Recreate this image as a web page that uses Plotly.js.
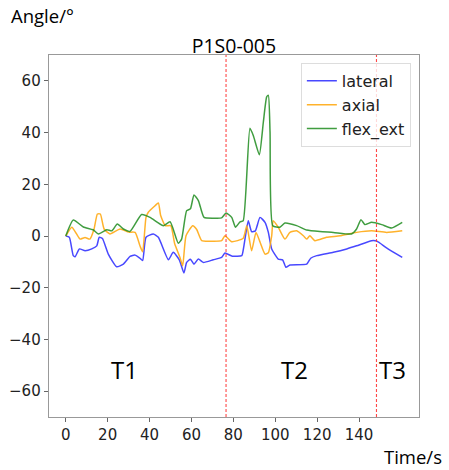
<!DOCTYPE html>
<html>
<head>
<meta charset="utf-8">
<script src="https://cdn.plot.ly/plotly-3.0.1.min.js"></script>
<style>html,body{margin:0;padding:0;background:#fff;}#chart{width:449px;height:470px;}</style>
</head>
<body>
<div id="chart"></div>
<script>
const seriesNames = ["lateral", "axial", "flex_ext"];

const tLateral = [0,1.7,3.6,4.5,6.5,9.2,12.4,14.8,16,17.5,20.3,24.3,27.5,30.7,33.1,35.4,36.7,38.3,41.8,44.2,49,51.3,54.2,56.4,57.7,59.5,61.2,63.3,65.6,70.4,74.4,76,79.5,84,85,87.1,88.7,90.5,92.7,95.1,96.7,98.3,101.4,103.5,105.1,107,115,116.9,119.8,127.7,134.1,138.8,146,148.5,153.1,160.6];
const lateral = [0,-0.5,-7.6,-8,-5,-5.7,-5,-3.8,-0.5,-1,-7,-11.9,-10.9,-7.9,-7.4,-8.6,-9.5,-0.5,0.8,-0.5,-9.2,-6.3,-9.2,-14.3,-10.2,-9,-10.9,-8.9,-10.2,-9.2,-8.3,-6.6,-7.8,-7.6,-4,5.9,1.7,2,7.2,5.3,1.4,-5,-8.9,-9.2,-12.1,-11.2,-10.9,-8.6,-7.6,-6.3,-5,-3.8,-1.8,-2,-4.6,-8.3];

const tAxial = [0,2.9,5,6.8,9.2,11.5,13.5,15.1,16.5,18.3,21.1,25.9,30,33.1,35.5,36.7,38.3,39.4,42.6,44.2,45.3,47.5,50.1,52,54.5,55.8,57.4,60.6,62.5,64.9,70.4,74.4,76,79.2,84.7,86.4,88.7,90.8,92.8,95.1,96.7,98.3,99,101.4,104.6,107,110.2,113.4,115,116.5,118.9,124.5,130.9,138.8,146,153.1,160.6];
const axial = [0,3.4,1,-1.2,-0.6,-1.2,2.7,8.5,8.5,2.7,0.8,2.7,1.5,1.4,-4,-6.1,7.2,9.2,11.7,12.8,7.9,4,4,-3,-8.3,-11.5,0.1,4,2.5,-1.8,-2,-1.8,0.1,-2.2,-0.9,4,-5.7,1.4,-2.5,-7,-6.5,0.1,5.9,3.4,-1.2,1.4,2,0.1,-1.2,0.1,-1.8,-0.5,0.1,1.4,2,1.4,2];

const tFlex = [0,3.6,8.4,13,15.6,19.6,22,24.6,27.5,30.7,36.2,40.2,43.4,46.6,49.8,53.7,55.3,57.7,59.5,61.2,63.3,66,70.4,74.4,76.5,79.2,81,83.2,84.7,87.9,89.5,92.4,94.3,95.9,96.7,97.5,98.8,102.2,104.6,110.2,115,121.3,127.7,136.4,138.8,140.9,142.8,146,150.8,155.5,160.6];
const flexExt = [0,6.2,3.5,2.4,0.8,2.4,2,4.6,2.7,1.8,8.3,7.2,5.5,4,5.5,-2.8,-1.2,9.8,10.5,15.9,13.7,7.2,6.9,7,8.9,7.2,3.4,5.5,5.9,41.7,38.9,31.4,44,53.8,54.4,40.2,4,3.4,5,4,2.3,1.7,1.4,0.8,2.7,6.3,4.4,5.3,4.4,3.1,5.3];

const phaseBounds = [76.5, 148.3];
const phaseLabels = ["T1", "T2", "T3"];
const phaseLabelX = [28, 109, 156];
const xTicks = [0,20,40,60,80,100,120,140];
const yTicks = [-60,-40,-20,0,20,40,60];

const colors = ["rgba(40,40,255,0.85)", "rgba(255,170,20,0.9)", "rgba(30,140,30,0.85)"];
const xs = [tLateral, tAxial, tFlex];
const ys = [lateral, axial, flexExt];

const traces = seriesNames.map((n, i) => ({
  x: xs[i], y: ys[i], name: n, type: "scatter", mode: "lines",
  line: {color: colors[i], width: 1.5, shape: "spline", smoothing: 0.5}
}));

const shapes = phaseBounds.map(b => ({
  type: "line", xref: "x", yref: "paper", x0: b, x1: b, y0: 0, y1: 1,
  line: {color: "rgba(255,40,40,0.85)", width: 1.1, dash: "3px,2px"}
}));

const font = "Open Sans, Lato, sans-serif";
const annotations = phaseLabels.map((t, i) => ({
  text: t, x: phaseLabelX[i], y: -51.5, xref: "x", yref: "y",
  showarrow: false, font: {family: font, size: 24, color: "#000"}
}));
annotations.push({text: "Angle/°", xref: "paper", yref: "paper", x: -0.108, y: 1.07,
  xanchor: "left", yanchor: "bottom", showarrow: false, font: {family: font, size: 18.5, color: "#000"}});
annotations.push({text: "Time/s", xref: "paper", yref: "paper", x: 1.067, y: -0.07,
  xanchor: "right", yanchor: "top", showarrow: false, font: {family: font, size: 18.5, color: "#000"}});

const layout = {
  width: 449, height: 470,
  margin: {l: 49, r: 30, t: 55, b: 53},
  paper_bgcolor: "#fff", plot_bgcolor: "#fff",
  title: {text: "P1S0-005", x: 0.521, xanchor: "center", y: 0.888, yanchor: "bottom",
    font: {family: font, size: 19.5, color: "#000"}},
  xaxis: {range: [-8, 168.6], tickvals: xTicks, showgrid: false, zeroline: false,
    showline: true, mirror: true, linecolor: "#999", linewidth: 1.3,
    ticks: "outside", ticklen: 4, tickcolor: "#666",
    tickfont: {family: "DejaVu Sans, sans-serif", size: 15, color: "#222"}},
  yaxis: {range: [-70, 70], tickvals: yTicks, showgrid: false, zeroline: false,
    showline: true, mirror: true, linecolor: "#999", linewidth: 1.3,
    ticks: "outside", ticklen: 4, tickcolor: "#666",
    tickfont: {family: "DejaVu Sans, sans-serif", size: 15, color: "#222"}},
  legend: {x: 0.978, xanchor: "right", y: 0.978, yanchor: "top",
    bgcolor: "rgba(255,255,255,0.8)", bordercolor: "#ddd", borderwidth: 1,
    font: {family: "DejaVu Sans, sans-serif", size: 16, color: "#222"},
    tracegroupgap: 0, itemwidth: 30},
  shapes: shapes,
  annotations: annotations,
  showlegend: true
};

Plotly.newPlot("chart", traces, layout, {displayModeBar: false, staticPlot: true});
</script>
</body>
</html>
